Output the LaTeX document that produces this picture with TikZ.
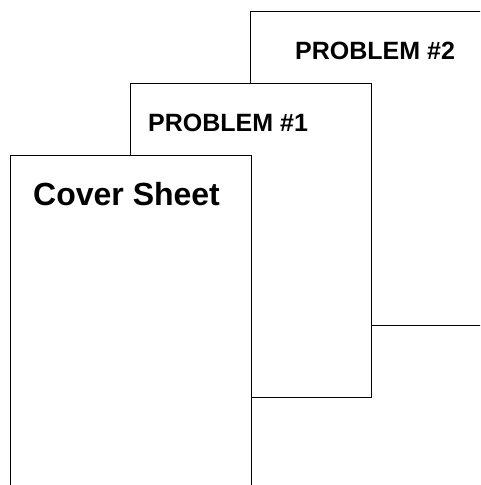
\documentclass[tikz,border=0pt]{standalone}
\usepackage{fontspec}
\setmainfont{Liberation Sans}
\usepackage{tikz}
\usetikzlibrary{positioning}
\tikzset{
  page/.style={draw=black, fill=white, line width=1.4pt, anchor=north west,
    minimum width=241pt, minimum height=314pt, inner sep=0pt},
  pagetitle/.style={anchor=base west, inner sep=0pt, font=\bfseries\fontsize{25}{29}\selectfont},
  covertitle/.style={anchor=base west, inner sep=0pt, font=\bfseries\fontsize{32}{37}\selectfont}
}
\begin{document}
\begin{tikzpicture}[x=1pt, y=1pt]
        \useasboundingbox (0,0) rectangle (480,485);
        \clip (0,0) rectangle (480,485);
        \node[page] (second) at (250,474) {};
        \node[page] (first) at (130,402) {};
        \node[page, minimum height=360pt] (cover) at (10,330) {};
        \node[pagetitle] (secondtitle) at (295,425) {PROBLEM \#2};
        \node[pagetitle] (firsttitle) at (148,353) {PROBLEM \#1};
        \node[covertitle] (covertext) at (33,279) {Cover Sheet};
    \end{tikzpicture}
\end{document}
